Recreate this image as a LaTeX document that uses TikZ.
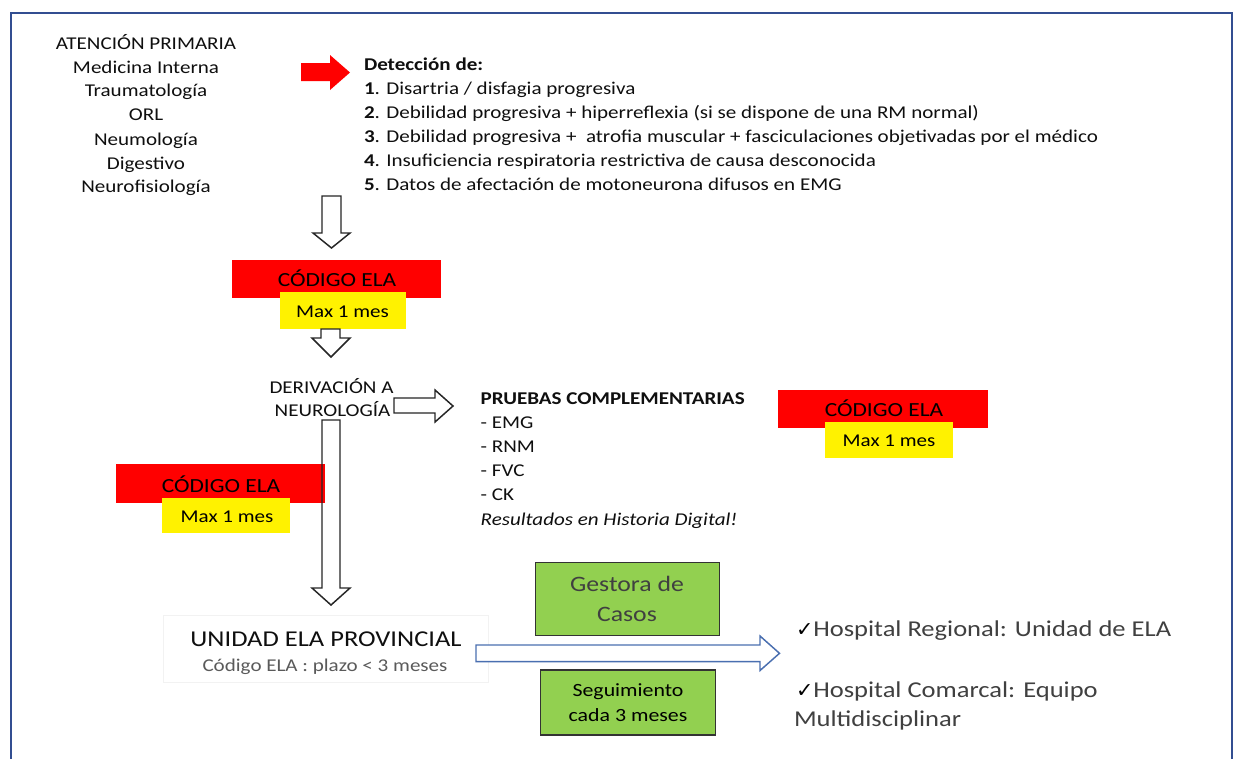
\documentclass[tikz,border=0pt]{standalone}
\usepackage{fontspec}
\setmainfont{Carlito}[FakeStretch=1.17]
\newfontfamily\symfont{DejaVu Sans}
\definecolor{frameblue}{RGB}{50,78,145}
\definecolor{arrowblue}{RGB}{74,111,176}
\definecolor{boxgreen}{RGB}{146,208,80}
\definecolor{darktxt}{RGB}{15,15,15}
\definecolor{graytxt}{RGB}{64,64,64}
\definecolor{lightgraytxt}{RGB}{90,90,90}
\newcommand\pxl[1]{#1*0.75pt}
\tikzset{
  txt/.style={inner sep=0pt, outer sep=0pt, text=darktxt, font=\fontsize{13.5}{16}\selectfont},
  codetxt/.style={inner sep=0pt, text=black, font=\fontsize{15}{18}\selectfont},
  redbox/.style={fill=red, draw=none, inner sep=0pt, anchor=north west},
  yellowbox/.style={fill=yellow, draw=none, inner sep=0pt, anchor=north west},
  greenbox/.style={fill=boxgreen, draw=black!80, line width=1.1pt, inner sep=0pt, anchor=north west},
  hollow/.style={draw=black!85, line width=1.1pt, line join=miter},
  bluehollow/.style={draw=arrowblue, line width=1.1pt, line join=miter, fill=white},
}
\begin{document}
\begin{tikzpicture}[x=0.75pt,y=-0.75pt]
\useasboundingbox (0,0) rectangle (1237,758);
\fill[white] (0,0) rectangle (1237,758);
% frame
\draw[frameblue, line width=1.5pt] (11,760) -- (11,13) -- (1232,13) -- (1232,760);

% left block
\foreach \t/\y [count=\i] in {ATENCIÓN PRIMARIA/49.3, Medicina Interna/73.3, Traumatología/96.9, ORL/120.9, Neumología/145, Digestivo/169, Neurofisiología/192.7}
  \node[txt, anchor=base] (ap\i) at (146,\y) {\t};

% red arrow
\fill[red] (301,63) -- (330,63) -- (330,55) -- (350,72.5) -- (330,90) -- (330,81) -- (301,81) -- cycle;

% detection list
\node[txt, anchor=base west] (det0) at (364,70) {\textbf{Detección de:}};
\node[txt, anchor=base west] (det1) at (364,94.3) {\textbf{1}. Disartria / disfagia progresiva};
\node[txt, anchor=base west] (det2) at (364,118.4) {\textbf{2}. Debilidad progresiva + hiperreflexia (si se dispone de una RM normal)};
\node[txt, anchor=base west] (det3) at (364,142.5) {\textbf{3}. Debilidad progresiva + \ atrofia muscular + fasciculaciones objetivadas por el médico};
\node[txt, anchor=base west] (det4) at (364,166.6) {\textbf{4}. Insuficiencia respiratoria restrictiva de causa desconocida};
\node[txt, anchor=base west] (det5) at (364,190.7) {\textbf{5}. Datos de afectación de motoneurona difusos en EMG};

% arrow 1 down
\draw[hollow] (322,196) -- (341,196) -- (341,233) -- (350,233) -- (331.5,248) -- (313,233) -- (322,233) -- cycle;

% codigo ELA 1
\node[redbox, minimum width=\pxl{209}, minimum height=\pxl{38}] (r1) at (232,260) {};
\node[yellowbox, minimum width=\pxl{126}, minimum height=\pxl{37}] (y1) at (280,292) {};
\node[codetxt, anchor=base] (c1) at (337,286.7) {CÓDIGO ELA};
\node[txt, text=black, anchor=base] (m1) at (342.5,317.3) {Max 1 mes};

% arrow 2 down
\draw[hollow] (321,329) -- (340,329) -- (340,338) -- (350,338) -- (331,357) -- (312,338) -- (321,338) -- cycle;

% derivacion
\node[txt, anchor=base] (der1) at (331.5,393.3) {DERIVACIÓN A};
\node[txt, anchor=base] (der2) at (332.5,416.7) {NEUROLOGÍA};

% arrow right
\draw[hollow] (394,398) -- (435,398) -- (435,390) -- (453,406) -- (435,422) -- (435,413) -- (394,413) -- cycle;

% pruebas
\node[txt, anchor=base west] (pr0) at (480.7,404) {\textbf{PRUEBAS COMPLEMENTARIAS}};
\node[txt, anchor=base west] (pr1) at (480.7,428.3) {- EMG};
\node[txt, anchor=base west] (pr2) at (480.7,452.6) {- RNM};
\node[txt, anchor=base west] (pr3) at (480.7,476.7) {- FVC};
\node[txt, anchor=base west] (pr4) at (480.7,500.8) {- CK};
\node[txt, anchor=base west] (pr5) at (480.7,525) {\textit{Resultados en Historia Digital!}};

% codigo ELA 3
\node[redbox, minimum width=\pxl{210}, minimum height=\pxl{38}] (r3) at (778,390) {};
\node[yellowbox, minimum width=\pxl{128}, minimum height=\pxl{36}] (y3) at (825,422) {};
\node[codetxt, anchor=base] (c3) at (884,416) {CÓDIGO ELA};
\node[txt, text=black, anchor=base] (m3) at (889,446.7) {Max 1 mes};

% codigo ELA 2
\node[redbox, minimum width=\pxl{209}, minimum height=\pxl{39}] (r2) at (116,464) {};
\node[yellowbox, minimum width=\pxl{128}, minimum height=\pxl{35}] (y2) at (162,498) {};
\node[codetxt, anchor=base] (c2) at (221,492.3) {CÓDIGO ELA};
\node[txt, text=black, anchor=base] (m2) at (227,522.3) {Max 1 mes};

% long arrow down
\draw[hollow] (322,420) -- (340,420) -- (340,588) -- (350,588) -- (331,605) -- (312,588) -- (322,588) -- cycle;

% unidad ELA provincial
\node[draw=black!5, line width=0.6pt, inner sep=0pt, anchor=north west, minimum width=\pxl{325}, minimum height=\pxl{67}] (ub) at (163,615) {};
\node[txt, anchor=base, font=\fontsize{17}{20}\selectfont] (u1) at (326,646) {UNIDAD ELA PROVINCIAL};
\node[txt, anchor=base, text=lightgraytxt] (u2) at (325,671) {Código ELA : plazo < 3 meses};

% blue arrow
\draw[bluehollow] (476,645) -- (760,645) -- (760,636) -- (779.5,653.3) -- (760,670.5) -- (760,661.7) -- (476,661.7) -- cycle;

% green boxes
\node[greenbox, minimum width=\pxl{184}, minimum height=\pxl{73}] (g1) at (535,562) {};
\node[txt, anchor=base, text=graytxt, font=\fontsize{16.5}{20}\selectfont] (g1a) at (627,591.7) {Gestora de};
\node[txt, anchor=base, text=graytxt, font=\fontsize{16.5}{20}\selectfont] (g1b) at (627,621.7) {Casos};
\node[greenbox, minimum width=\pxl{175}, minimum height=\pxl{65}] (g2) at (540,669.3) {};
\node[txt, anchor=base, text=black, font=\fontsize{14}{17}\selectfont] (g2a) at (628,696.7) {Seguimiento};
\node[txt, anchor=base, text=black, font=\fontsize{14}{17}\selectfont] (g2b) at (628,721.7) {cada 3 meses};

% hospitals
\node[txt, anchor=base west, text=graytxt, font=\fontsize{17}{20}\selectfont] (h1) at (796,636) {{\symfont\fontsize{15.5}{18}\selectfont\color{black}✓}Hospital Regional: Unidad de ELA};
\node[txt, anchor=base west, text=graytxt, font=\fontsize{17}{20}\selectfont] (h2) at (796,697) {{\symfont\fontsize{15.5}{18}\selectfont\color{black}✓}Hospital Comarcal: Equipo};
\node[txt, anchor=base west, text=graytxt, font=\fontsize{17}{20}\selectfont] (h3) at (794,726) {Multidisciplinar};
\end{tikzpicture}
\end{document}
